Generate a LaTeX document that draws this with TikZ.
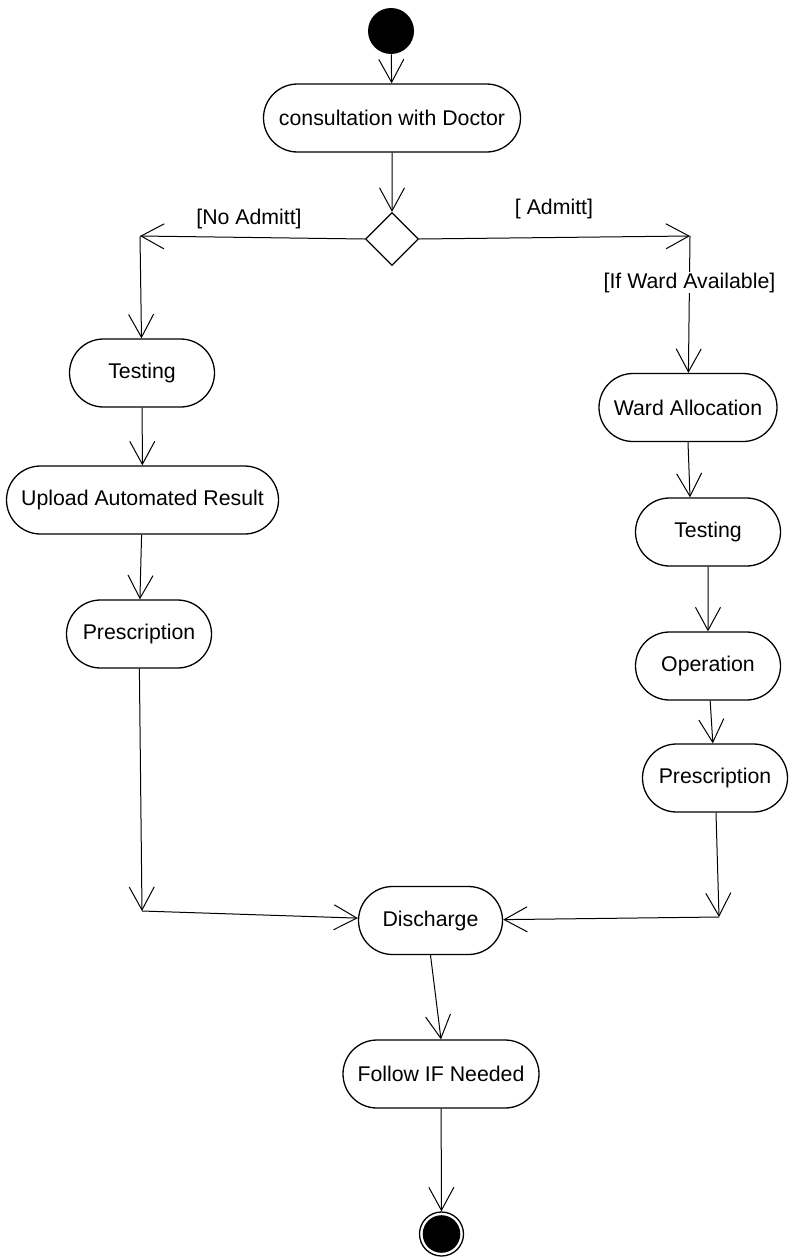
\documentclass[tikz,border=0pt]{standalone}
\usepackage{fontspec}
\setmainfont{Liberation Sans}
\usetikzlibrary{arrows.meta,shapes.geometric,shapes.misc}

\begin{document}
\begin{tikzpicture}[x=1pt,y=-1pt,line width=1pt,
	>={Straight Barb[length=23pt,width=25pt]},
	act/.style={rounded rectangle,draw,line width=1.3pt,minimum height=68pt,minimum width=145pt,inner sep=0pt,font=\fontsize{21.3}{25}\selectfont},
	decision/.style={diamond,draw,line width=1.3pt,minimum size=53pt,inner sep=0pt},
	guard/.style={inner sep=1pt,font=\fontsize{21.3}{25}\selectfont}]
	\useasboundingbox (0,0) rectangle (790,1258);
	\node[circle,fill=black,minimum size=46pt,inner sep=0pt] (start) at (391,31) {};
	\node[act,minimum width=257pt] (consult) at (392,118) {consultation with Doctor};
	\node[decision] (admit) at (392,239) {};
	\node[guard] (nolbl) at (249,219) {[No Admitt]};
	\node[guard] (yeslbl) at (554,209) {[ Admitt]};
	\coordinate (leftturn) at (140,236);
	\coordinate (rightturn) at (690,236);
	% no admission
	\node[act] (test1) at (142,373) {Testing};
	\node[act,minimum width=272pt] (upload) at (142.5,500) {Upload Automated Result};
	\node[act] (presc1) at (139,634) {Prescription};
	\coordinate (leftjoin) at (142,911);
	% admission
	\node[act,minimum width=178pt] (ward) at (688,407.5) {Ward Allocation};
	\node[act] (test2) at (708,532) {Testing};
	\node[act] (oper) at (708,666) {Operation};
	\node[act] (presc2) at (715,778) {Prescription};
	\coordinate (rightjoin) at (719,917);
	\node[act,minimum width=144pt] (dis) at (430.5,920.5) {Discharge};
	\node[act,minimum width=196pt] (follow) at (441,1074) {Follow IF Needed};
	\node[circle,draw,line width=1.3pt,minimum size=44pt,inner sep=0pt,
		path picture={\fill (path picture bounding box.center) circle (18.8pt);}] (finish) at (441.5,1234) {};

	\draw[->] (start) -- (consult);
	\draw[->] (consult) -- (admit);
	\draw[->] (admit.west) -- (leftturn);
	\draw[->] (leftturn) -- (test1);
	\draw[->] (test1) -- (upload);
	\draw[->] (upload) -- (presc1);
	\draw[->] (presc1) -- (leftjoin);
	\draw[->] (leftjoin) -- (dis);
	\draw[->] (admit.east) -- (rightturn);
	\draw[->] (rightturn) -- node[guard,fill=white,pos=0.34] (wardlbl) {[If Ward Available]} (ward);
	\draw[->] (ward.south) -- ([xshift=-18pt]test2.north);
	\draw[->] (test2) -- (oper);
	\draw[->] (oper) -- (presc2);
	\draw[->] (presc2) -- (rightjoin);
	\draw[->] (rightjoin) -- (dis);
	\draw[->] (dis.south) -- (follow.north);
	\draw[->] (follow) -- (finish);
\end{tikzpicture}
\end{document}
